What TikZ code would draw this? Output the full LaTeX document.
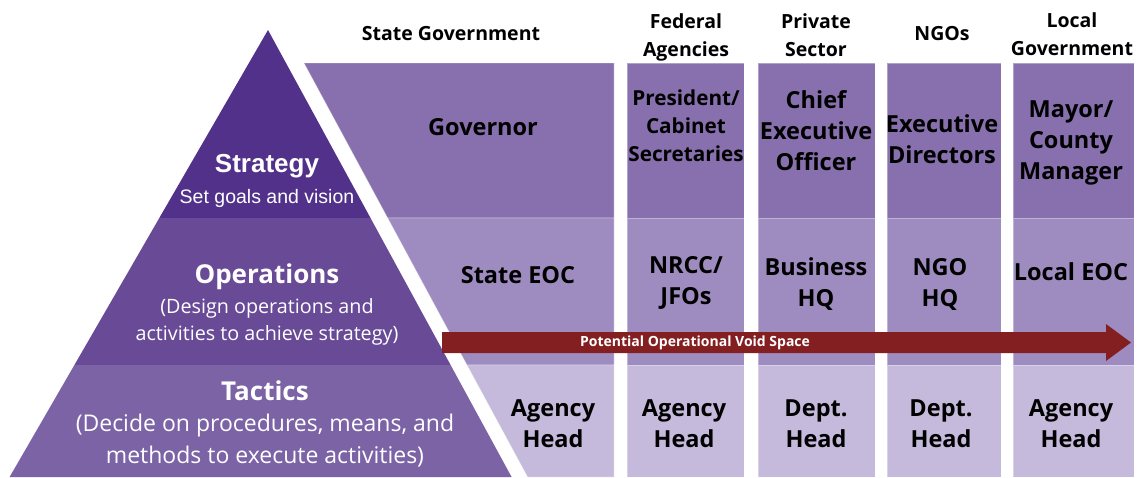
\documentclass[tikz,border=0pt]{standalone}
\usepackage{fontspec}
\usetikzlibrary{calc}
\setmainfont{Open Sans}
\newfontfamily\arialfont{Liberation Sans}
\definecolor{stratC}{HTML}{52318A}
\definecolor{operC}{HTML}{684A96}
\definecolor{tactC}{HTML}{7B63A6}
\definecolor{rowA}{HTML}{8770AD}
\definecolor{rowB}{HTML}{9E8CC0}
\definecolor{rowC}{HTML}{C5BADB}
\definecolor{voidC}{HTML}{841F21}
\begin{document}
\begin{tikzpicture}[x=1pt,y=-1pt,
  cellA/.style={fill=rowA},
  cellB/.style={fill=rowB},
  cellC/.style={fill=rowC},
  seam/.style={draw=white,draw opacity=0.35,line width=0.8pt},
  cell/.style={font=\bfseries\fontsize{23.5}{31}\selectfont,align=center,text=black,inner sep=0pt},
  smallcell/.style={font=\bfseries\fontsize{20.7}{28}\selectfont,align=center,text=black,inner sep=0pt},
  head/.style={font=\bfseries\fontsize{19.5}{28}\selectfont,align=center,text=black,inner sep=0pt},
  lvl/.style={font=\bfseries\fontsize{26}{30}\selectfont,text=white,inner sep=0pt},
  lvldesc/.style={font=\fontsize{19.75}{27}\selectfont,align=center,text=white,inner sep=0pt}]
\useasboundingbox (0,0) rectangle (1138,477);

% ---- pyramid of planning levels ----
\fill[stratC] (268,30) -- (370.5,218) -- (159.3,218) -- cycle;
\fill[operC] (159.3,218) -- (370.5,218) -- (450.6,365) -- (74.4,365) -- cycle;
\fill[tactC] (74.4,365) -- (450.6,365) -- (511.6,477) -- (9.6,477) -- cycle;

\node[lvl,font=\arialfont\bfseries\fontsize{26}{30}\selectfont] (strat) at (267,166) {Strategy};
\node[lvldesc,font=\arialfont\fontsize{19.5}{27}\selectfont] (stratd) at (267,198) {Set goals and vision};
\node[lvl] (oper) at (267,277) {Operations};
\node[lvldesc] (operd) at (267,322) {(Design operations and\\activities to achieve strategy)};
\node[lvl] (tact) at (265,391) {Tactics};
\node[lvldesc,font=\fontsize{23}{32}\selectfont] (tactd) at (265,441) {(Decide on procedures, means, and\\methods to execute activities)};

% ---- State Government column (slanted left edge) ----
\path[cellA,seam] (304,63) -- (614,63) -- (614,218) -- (387.7,218) -- cycle;
\path[cellB,seam] (387.7,218) -- (614,218) -- (614,365) -- (467,365) -- cycle;
\path[cellC,seam] (467,365) -- (614,365) -- (614,477) -- (527.6,477) -- cycle;

% ---- remaining columns ----
\foreach \xa/\xb in {627/744, 758/875, 887/1001, 1013/1134}{
  \path[cellA,seam] (\xa,63) rectangle (\xb,218);
  \path[cellB,seam] (\xa,218) rectangle (\xb,365);
  \path[cellC,seam] (\xa,365) rectangle (\xb,477);
}

% ---- column headers ----
\node[head] (hstate) at (451,34) {State Government};
\node[head] (hfed) at (686,37) {Federal\\Agencies};
\node[head] (hpriv) at (816,35) {Private\\Sector};
\node[head] (hngo) at (942,34) {NGOs};
\node[head] (hloc) at (1072,34) {Local\\Government};

% ---- strategy row ----
\node[cell] (gov) at (483,127) {Governor};
\node[smallcell] (pres) at (686,126) {President/\\Cabinet\\Secretaries};
\node[cell] (ceo) at (816,131) {Chief\\Executive\\Officer};
\node[cell] (exdir) at (942,139) {Executive\\Directors};
\node[cell] (mayor) at (1071,143) {Mayor/\\County\\Manager};

% ---- operations row ----
\node[cell] (seoc) at (518,275) {State EOC};
\node[cell] (nrcc) at (686,283) {NRCC/\\JFOs};
\node[cell] (bhq) at (816,284) {Business\\HQ};
\node[cell] (nhq) at (940,284) {NGO\\HQ};
\node[cell] (leoc) at (1071,272) {Local EOC};

% ---- tactics row ----
\node[cell] (ahs) at (553,424) {Agency\\Head};
\node[cell] (ahf) at (684,424) {Agency\\Head};
\node[cell] (dhp) at (816,424) {Dept.\\Head};
\node[cell] (dhn) at (941,424) {Dept.\\Head};
\node[cell] (ahl) at (1071,424) {Agency\\Head};

% ---- operational void arrow ----
\coordinate (vstart) at (442,342.5);
\coordinate (vtip) at (1131,342.5);
\fill[voidC] ($(vstart)+(0,-10.5)$) -- (1106,332) -- (1106,324) -- (vtip)
  -- (1106,361) -- (1106,353) -- ($(vstart)+(0,10.5)$) -- cycle;
\node[font=\bfseries\fontsize{14}{16}\selectfont,text=white,inner sep=0pt] (vlabel) at (695,343) {Potential Operational Void Space};
\end{tikzpicture}
\end{document}
